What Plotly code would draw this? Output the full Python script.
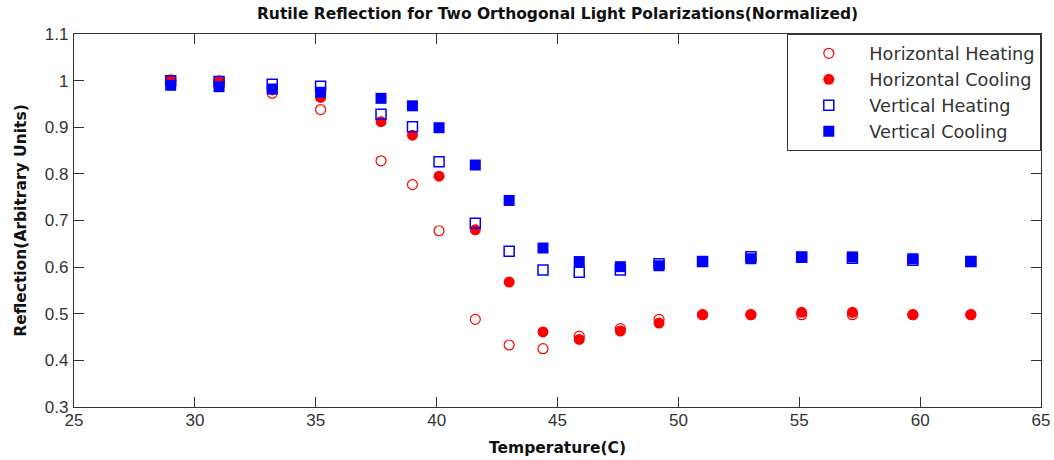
import plotly.graph_objects as go

temperature = [29.0, 31.0, 33.2, 35.2, 37.7, 39.0, 40.1, 41.6, 43.0, 44.4, 45.9, 47.6, 49.2, 51.0, 53.0, 55.1, 57.2, 59.7, 62.1]
horiz_heating = [1.000, 0.997, 0.973, 0.938, 0.828, 0.777, 0.678, 0.488, 0.433, 0.425, 0.452, 0.468, 0.488, 0.498, 0.498, 0.498, 0.498, 0.498, 0.498]
horiz_cooling = [1.002, 1.000, 0.980, 0.964, 0.912, 0.883, 0.795, 0.680, 0.568, 0.461, 0.445, 0.463, 0.480, 0.498, 0.498, 0.503, 0.503, 0.498, 0.498]
vert_heating = [1.000, 0.998, 0.992, 0.988, 0.928, 0.901, 0.826, 0.694, 0.634, 0.594, 0.589, 0.594, 0.607, 0.612, 0.622, 0.621, 0.619, 0.615, 0.612]
vert_cooling = [0.990, 0.987, 0.982, 0.975, 0.962, 0.946, 0.899, 0.819, 0.743, 0.641, 0.612, 0.601, 0.603, 0.612, 0.618, 0.622, 0.622, 0.618, 0.612]

x_ticks = [25, 30, 35, 40, 45, 50, 55, 60, 65]
y_ticks = [0.3, 0.4, 0.5, 0.6, 0.7, 0.8, 0.9, 1.0, 1.1]
y_tick_labels = ["0.3", "0.4", "0.5", "0.6", "0.7", "0.8", "0.9", "1", "1.1"]

RED = "#ff0000"
BLUE = "#0000ff"
BOLD_FONT = "DejaVu Sans, Verdana, sans-serif"
PLAIN_FONT = "Liberation Sans, Arial, sans-serif"
LEGEND_FONT = "DejaVu Sans, Verdana, sans-serif"

FIG_W, FIG_H = 1054, 460

fig = go.Figure()
fig.add_trace(go.Scatter(x=temperature, y=horiz_heating, mode="markers", name="Horizontal Heating",
                         marker=dict(symbol="circle-open", size=10, color=RED, line=dict(width=1.2, color=RED))))
fig.add_trace(go.Scatter(x=temperature, y=horiz_cooling, mode="markers", name="Horizontal Cooling",
                         marker=dict(symbol="circle", size=11, color=RED, line=dict(width=0))))
fig.add_trace(go.Scatter(x=temperature, y=vert_heating, mode="markers", name="Vertical Heating",
                         marker=dict(symbol="square-open", size=10, color=BLUE, line=dict(width=1.5, color=BLUE))))
fig.add_trace(go.Scatter(x=temperature, y=vert_cooling, mode="markers", name="Vertical Cooling",
                         marker=dict(symbol="square", size=11, color=BLUE, line=dict(width=0))))

axis_common = dict(
    showgrid=False, zeroline=False, showline=True, linecolor="#333333", linewidth=1.3,
    mirror="ticks", ticks="inside", ticklen=10, tickwidth=1.3, tickcolor="#333333",
    automargin=False,
    tickfont=dict(family=PLAIN_FONT, size=17, color="#333333"),
)

fig.update_layout(
    width=FIG_W, height=FIG_H,
    margin=dict(l=74, r=13, t=34, b=53, autoexpand=False),
    paper_bgcolor="white", plot_bgcolor="white",
    title=dict(text="<b>Rutile Reflection for Two Orthogonal Light Polarizations(Normalized)</b>",
               x=0.5, xanchor="center", xref="paper", y=1 - 14 / FIG_H, yanchor="middle",
               font=dict(family=BOLD_FONT, size=15.5, color="#111111")),
    xaxis=dict(axis_common, range=[25, 65], tickvals=x_ticks, ticktext=[str(v) for v in x_ticks],
               ticklabelstandoff=-3,
               title=dict(text="<b>Temperature(C)</b>", standoff=13,
                          font=dict(family=BOLD_FONT, size=15.5, color="#111111"))),
    yaxis=dict(axis_common, range=[0.3, 1.1], tickvals=y_ticks, ticktext=y_tick_labels,
               ticklabelstandoff=1,
               title=dict(text="<b>Reflection(Arbitrary Units)</b>", standoff=14,
                          font=dict(family=BOLD_FONT, size=15.5, color="#111111"))),
    legend=dict(x=1, y=1, xanchor="right", yanchor="top", bgcolor="white",
                bordercolor="#333333", borderwidth=1.3,
                font=dict(family=LEGEND_FONT, size=17.7, color="#333333"),
                tracegroupgap=0, itemwidth=71),
    showlegend=True,
)

fig.write_html("out.html", config={"displayModeBar": False},
               post_script="document.body.style.margin='0px';")
